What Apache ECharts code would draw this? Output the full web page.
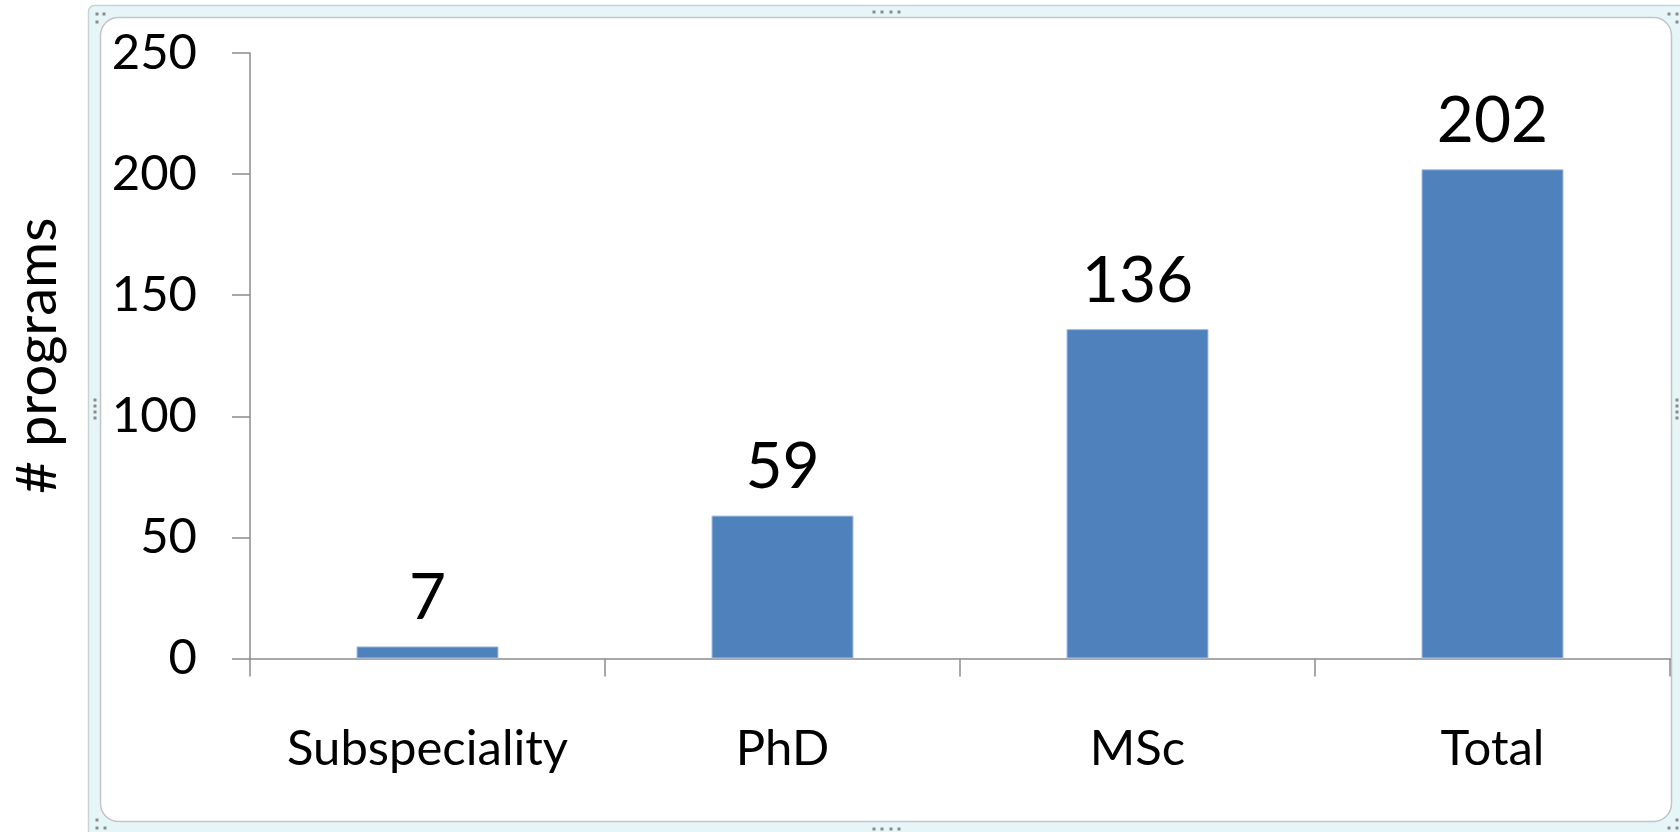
<!DOCTYPE html>
<html>
<head>
<meta charset="utf-8">
<script src="https://cdn.jsdelivr.net/npm/echarts@6/dist/echarts.min.js"></script>
<style>
html,body{margin:0;padding:0;background:#fff;}
#chart{width:1680px;height:832px;}
</style>
</head>
<body>
<div id="chart"></div>
<script>
// ---- data ----
var categories = ['Subspeciality', 'PhD', 'MSc', 'Total'];
var barValues = [5, 59, 136, 202];          // bar heights as drawn
var labelTexts = ['7', '59', '136', '202']; // data labels as printed
var yTicks = { min: 0, max: 250, interval: 50 };
var yAxisName = '# programs';

var FONT = 'Lato, "Open Sans", "Noto Sans", sans-serif';
var chart = echarts.init(document.getElementById('chart'), null, {renderer: 'canvas'});

function dots(points) {
  return points.map(function (p) {
    return {type: 'rect', silent: true, z: 1,
      shape: {x: p[0] - 1.5, y: p[1] - 1.5, width: 3, height: 3},
      style: {fill: '#8a8a8a'}};
  });
}
var handleDots = dots([
  [97,14],[104,14],[97,22],
  [1669,14],[1677,14],[1677,22],
  [97,820],[97,828],[105,828],
  [1677,820],[1669,828],[1677,828],
  [874,12],[882,12],[891,12],[899,12],
  [874,829],[882,829],[891,829],[899,829],
  [95,400],[95,406],[95,412],[95,418],
  [1677,400],[1677,406],[1677,412],[1677,418]
]);

var option = {
  backgroundColor: '#ffffff',
  animation: false,
  graphic: {
    elements: [
      {type: 'rect', silent: true, z: -20,
        shape: {x: 88.5, y: 5.5, width: 1620, height: 860, r: 6},
        style: {fill: '#e6f6f8', stroke: '#c9d3d6', lineWidth: 1.5}},
      {type: 'rect', silent: true, z: -10,
        shape: {x: 100.5, y: 17.5, width: 1571, height: 804, r: 18},
        style: {fill: '#ffffff', stroke: '#c4c4c4', lineWidth: 1.5}}
    ].concat(handleDots)
  },
  grid: {left: 250, right: 10, top: 53, bottom: 173.5, containLabel: false, outerBoundsMode: 'none'},
  xAxis: {
    type: 'category',
    data: categories,
    axisLine: {lineStyle: {color: '#8c8c8c', width: 1.5}},
    axisTick: {show: true, interval: 0, length: 18, lineStyle: {color: '#8c8c8c', width: 1.5}},
    axisLabel: {interval: 0, color: '#000', fontFamily: FONT, fontSize: 49, margin: 66, lineHeight: 49, hideOverlap: false},
    splitLine: {show: false}
  },
  yAxis: {
    type: 'value',
    min: yTicks.min, max: yTicks.max, interval: yTicks.interval,
    name: yAxisName,
    nameLocation: 'middle',
    nameGap: 184,
    nameRotate: 90,
    nameTextStyle: {color: '#000', fontFamily: FONT, fontSize: 56},
    axisLine: {show: true, lineStyle: {color: '#8c8c8c', width: 1.5}},
    axisTick: {show: true, length: 18, lineStyle: {color: '#8c8c8c', width: 1.5}},
    axisLabel: {color: '#000', fontFamily: FONT, fontSize: 49, margin: 53},
    splitLine: {show: false}
  },
  series: [{
    type: 'bar',
    data: barValues,
    barCategoryGap: '60%',
    itemStyle: {color: '#4f81bd', borderColor: '#a7bfde', borderWidth: 1},
    label: {
      show: true,
      position: 'top',
      distance: 16,
      color: '#000',
      fontFamily: FONT,
      fontSize: 64,
      formatter: function (p) { return labelTexts[p.dataIndex]; }
    }
  }]
};
chart.setOption(option);
</script>
</body>
</html>
